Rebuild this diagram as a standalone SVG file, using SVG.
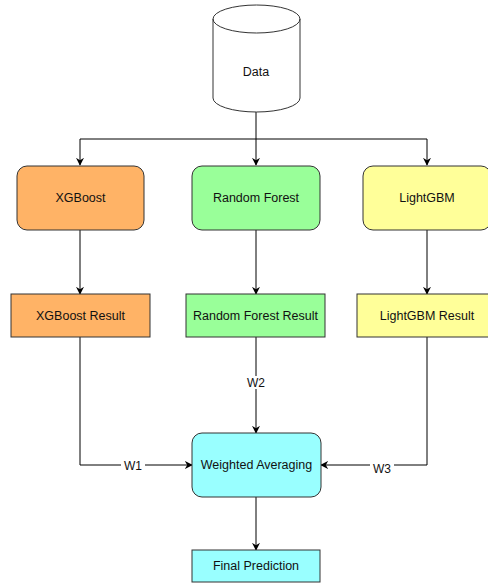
<svg xmlns="http://www.w3.org/2000/svg" width="488" height="583" viewBox="0 0 488 583">
<defs>
<marker id="ar" viewBox="0 0 10 10" refX="9" refY="5" markerWidth="8" markerHeight="8" markerUnits="userSpaceOnUse" orient="auto">
<path d="M0,0 L10,5 L0,10 L3,5 Z" fill="#000"/>
</marker>
<style>
.n{stroke:#333;stroke-width:1}
.t{font-family:"Liberation Sans",Arial,sans-serif;font-size:12.5px;fill:#111;text-anchor:middle;dominant-baseline:central}
.e{fill:none;stroke:#000;stroke-width:1;marker-end:url(#ar)}
.l{fill:none;stroke:#000;stroke-width:1}
.lb{font-family:"Liberation Sans",Arial,sans-serif;font-size:12px;fill:#111;text-anchor:middle;dominant-baseline:central}
</style>
</defs>
<rect width="488" height="583" fill="#fff"/>
<g id="connectors">
<path class="l" d="M256,112 V139"/>
<path class="e" d="M256,139 H80 V165"/>
<path class="e" d="M256,139 V165"/>
<path class="e" d="M256,139 H427 V165"/>
<path class="e" d="M80,230 V294"/>
<path class="e" d="M256,230 V294"/>
<path class="e" d="M427,230 V294"/>
<path class="e" d="M80,337 V465 H192"/>
<path class="e" d="M256,337 V433"/>
<path class="e" d="M427,337 V465 H321"/>
<path class="e" d="M256,497 V550"/>
<rect x="121" y="459" width="24" height="13" fill="#fff"/>
<text class="lb" x="133" y="466">W1</text>
<rect x="244" y="376" width="24" height="13" fill="#fff"/>
<text class="lb" x="256" y="383">W2</text>
<rect x="370" y="462" width="24" height="13" fill="#fff"/>
<text class="lb" x="382" y="469">W3</text>
</g>
<g id="data">
<path class="n" fill="#fff" d="M213,19 A43.5,14 0 0 1 300,19 V98 A43.5,14 0 0 1 213,98 Z"/>
<path class="n" fill="none" d="M213,19 A43.5,14 0 0 0 300,19"/>
<text class="t" x="256" y="72">Data</text>
</g>
<g id="xgboost">
<rect class="n" x="17" y="166" width="127" height="64" rx="10" fill="#FFB366"/>
<text class="t" x="80.5" y="198">XGBoost</text>
</g>
<g id="rf">
<rect class="n" x="192" y="166" width="128" height="64" rx="10" fill="#99FF99"/>
<text class="t" x="256" y="198">Random Forest</text>
</g>
<g id="lgbm">
<rect class="n" x="363" y="166" width="128" height="64" rx="10" fill="#FFFF99"/>
<text class="t" x="427" y="198">LightGBM</text>
</g>
<g id="xgbres">
<rect class="n" x="11" y="294" width="139" height="43" fill="#FFB366"/>
<text class="t" x="80.5" y="315.5">XGBoost Result</text>
</g>
<g id="rfres">
<rect class="n" x="186" y="294" width="139" height="43" fill="#99FF99"/>
<text class="t" x="255.5" y="315.5">Random Forest Result</text>
</g>
<g id="lgbmres">
<rect class="n" x="357" y="294" width="140" height="43" fill="#FFFF99"/>
<text class="t" x="427" y="315.5">LightGBM Result</text>
</g>
<g id="wavg">
<rect class="n" x="192" y="433" width="129" height="64" rx="10" fill="#99FFFF"/>
<text class="t" x="256.5" y="465">Weighted Averaging</text>
</g>
<g id="final">
<rect class="n" x="192" y="550" width="128" height="32" fill="#99FFFF"/>
<text class="t" x="256" y="566">Final Prediction</text>
</g>
</svg>
